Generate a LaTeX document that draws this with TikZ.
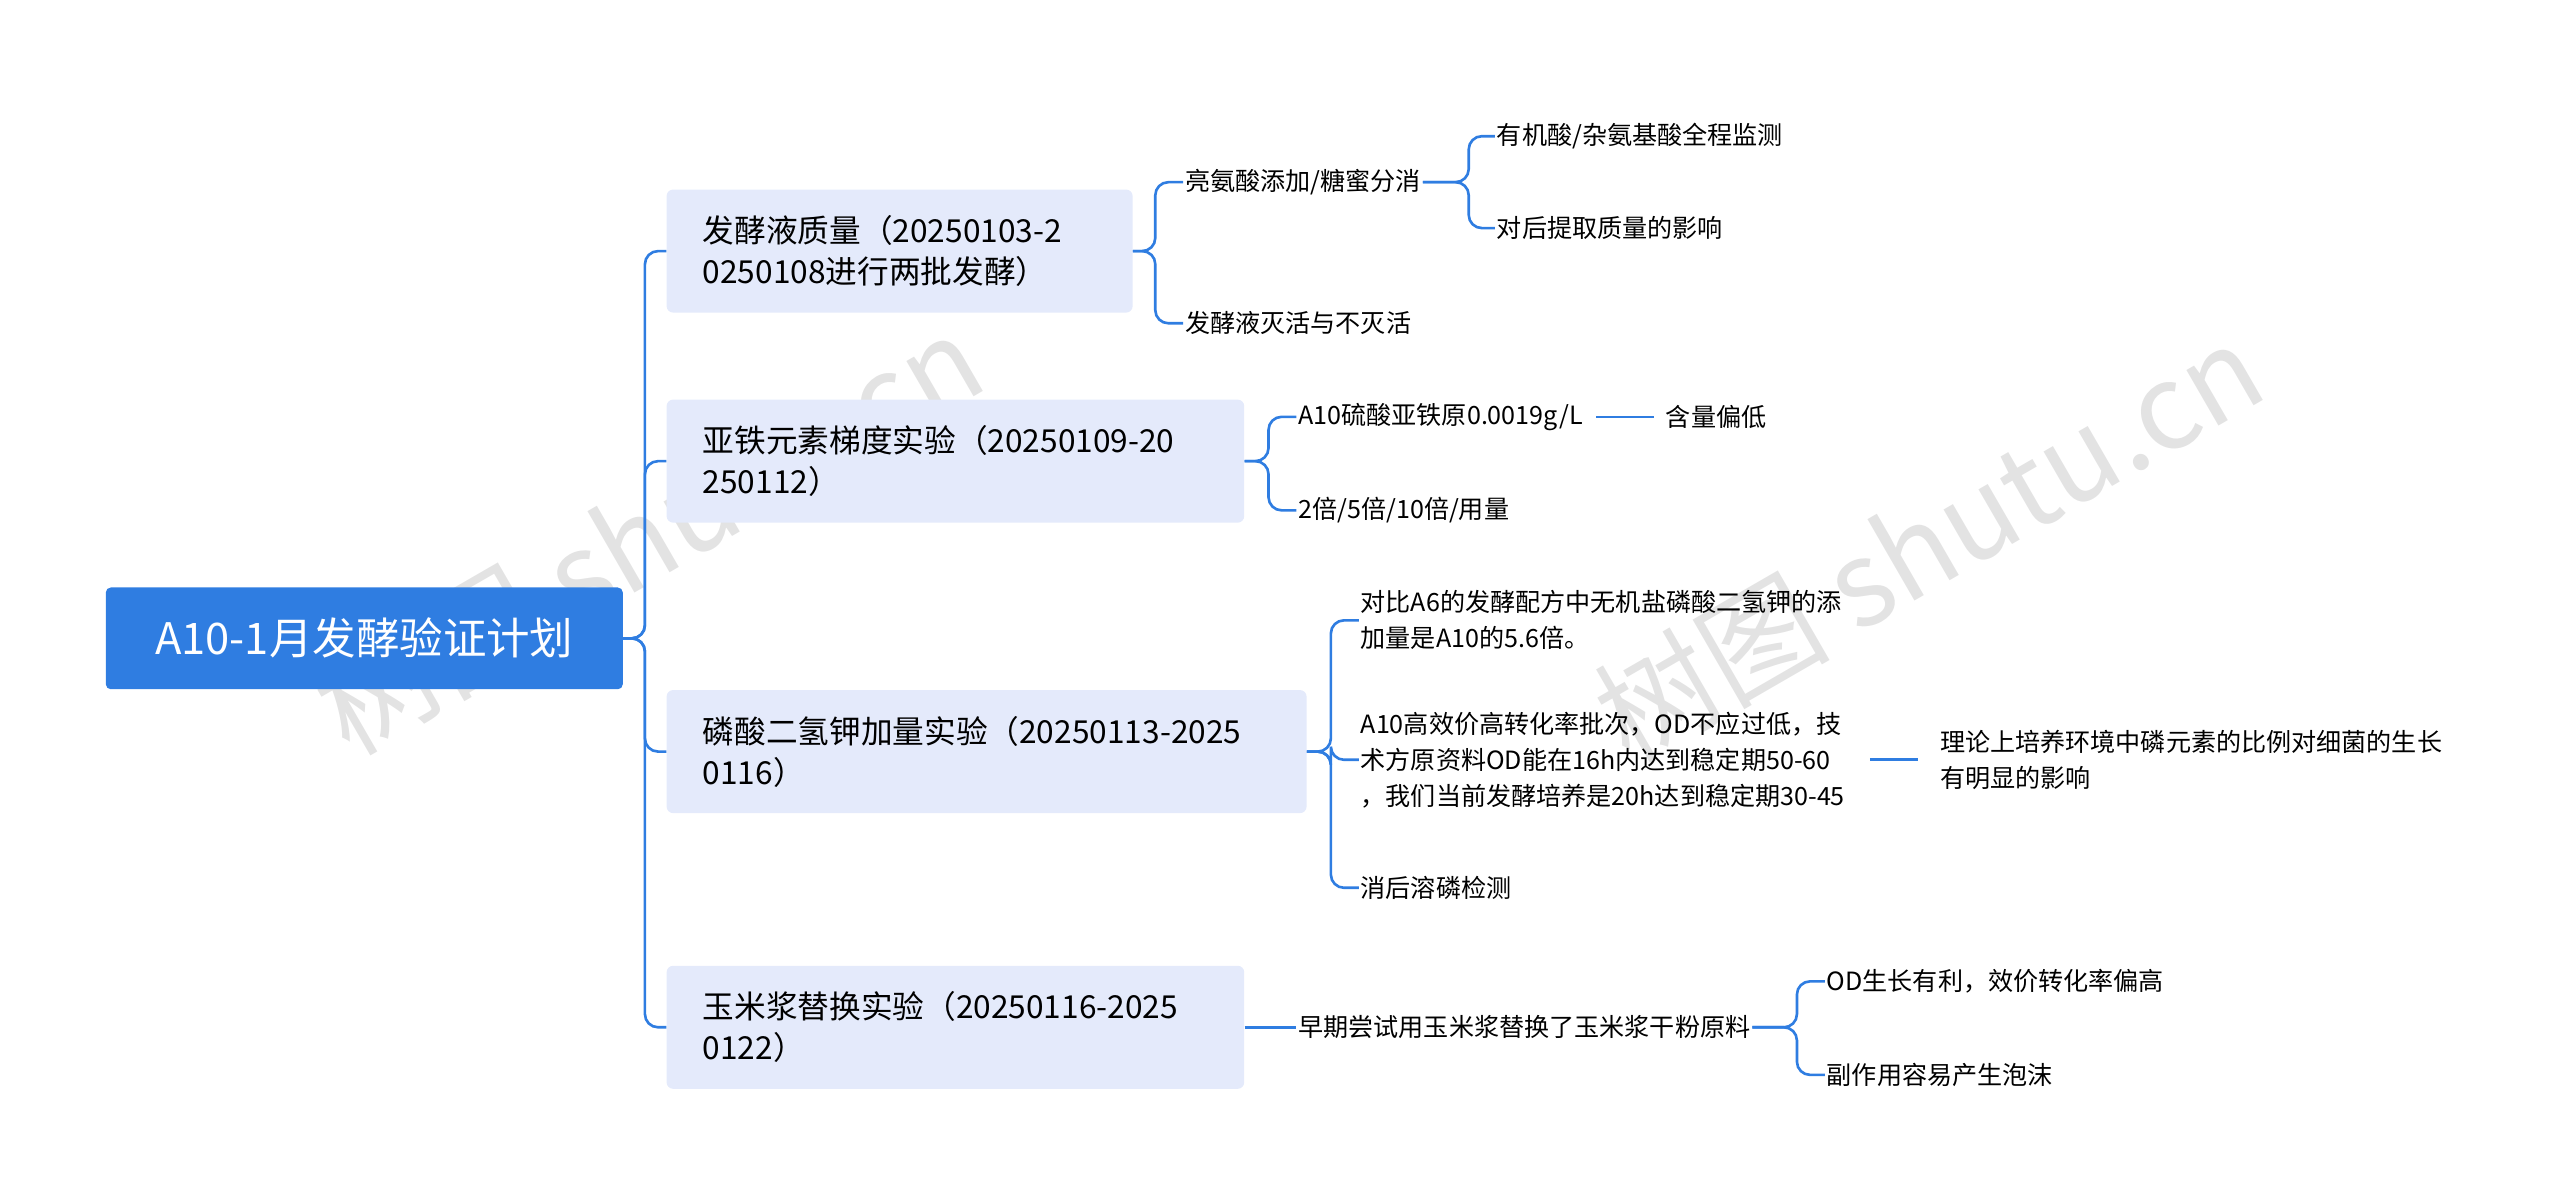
\documentclass[tikz,border=0pt]{standalone}
\usepackage{fontspec}
\setmainfont{Noto Sans CJK SC}
\usetikzlibrary{positioning}
\definecolor{linkblue}{HTML}{2F7DE1}
\definecolor{topicfill}{HTML}{E4EAFB}
\tikzset{
	rootnode/.style={rectangle, rounded corners=3, fill=linkblue, text=white, minimum width=315, minimum height=62, font=\fontsize{26.5}{30}\selectfont},
	topicnode/.style={rectangle, rounded corners=4, fill=topicfill, anchor=west, align=left, inner xsep=22, minimum height=75, font=\fontsize{19.3}{25}\selectfont},
	leafnode/.style={anchor=west, align=left, inner sep=1, font=\fontsize{15.3}{22}\selectfont},
	link/.style={draw=linkblue, line width=1.6, rounded corners=8}
}
\begin{document}
\begin{tikzpicture}[x=1pt,y=-1pt]
	\useasboundingbox (0,0) rectangle (1560,733);
	% watermark
	\node[rotate=30, text=black!11, font=\fontsize{72}{72}\selectfont] (wm1) at (395,325) {树图 shutu.cn};
	\node[rotate=30, text=black!11, font=\fontsize{72}{72}\selectfont] (wm2) at (1175,330) {树图 shutu.cn};

	\node[rootnode] (root) at (222,389) {A10-1月发酵验证计划};

	\node[topicnode, text width=240] (t1) at (406,153) {发酵液质量（20250103-2\\0250108进行两批发酵）};
	\node[topicnode, text width=308] (t2) at (406,281) {亚铁元素梯度实验（20250109-20\\250112）};
	\node[topicnode, text width=346] (t3) at (406,458) {磷酸二氢钾加量实验（20250113-2025\\0116）};
	\node[topicnode, text width=308] (t4) at (406,626) {玉米浆替换实验（20250116-2025\\0122）};

	\node[leafnode] (a1) at (721,111) {亮氨酸添加/糖蜜分消};
	\node[leafnode] (a2) at (721,197) {发酵液灭活与不灭活};
	\node[leafnode] (a11) at (911,83) {有机酸/杂氨基酸全程监测};
	\node[leafnode] (a12) at (911,139) {对后提取质量的影响};

	\node[leafnode] (b1) at (790,254) {A10硫酸亚铁原0.0019g/L};
	\node[leafnode] (b11) at (1014,254) {含量偏低};
	\node[leafnode] (b2) at (790,311) {2倍/5倍/10倍/用量};

	\node[leafnode] (c1) at (828,378) {对比A6的发酵配方中无机盐磷酸二氢钾的添\\加量是A10的5.6倍。};
	\node[leafnode] (c2) at (828,463) {A10高效价高转化率批次，OD不应过低，技\\术方原资料OD能在16h内达到稳定期50-60\\，我们当前发酵培养是20h达到稳定期30-45};
	\node[leafnode] (c21) at (1181,463) {理论上培养环境中磷元素的比例对细菌的生长\\有明显的影响};
	\node[leafnode] (c3) at (828,541) {消后溶磷检测};

	\node[leafnode] (d1) at (790,626) {早期尝试用玉米浆替换了玉米浆干粉原料};
	\node[leafnode] (d11) at (1112,598) {OD生长有利，效价转化率偏高};
	\node[leafnode] (d12) at (1112,655) {副作用容易产生泡沫};

	% links
	\foreach \t in {t1,t2,t3,t4}
		\draw[link] (root.east) -- (393,389) |- (\t.west);
	\foreach \c in {a1,a2}
		\draw[link] (t1.east) -- (704,153) |- (\c.west);
	\foreach \c in {a11,a12}
		\draw[link] (a1.east) -- (895,111) |- (\c.west);
	\foreach \c in {b1,b2}
		\draw[link] (t2.east) -- (773,281) |- (\c.west);
	\draw[link] ([xshift=7]b1.east) -- ([xshift=-6]b11.west);
	\foreach \c in {c1,c2,c3}
		\draw[link] (t3.east) -- (811,458) |- (\c.west);
	\draw[link] ([xshift=14]c2.east) -- ([xshift=-12]c21.west);
	\draw[link] (t4.east) -- (d1.west);
	\foreach \c in {d11,d12}
		\draw[link] (d1.east) -- (1095,626) |- (\c.west);
\end{tikzpicture}
\end{document}
